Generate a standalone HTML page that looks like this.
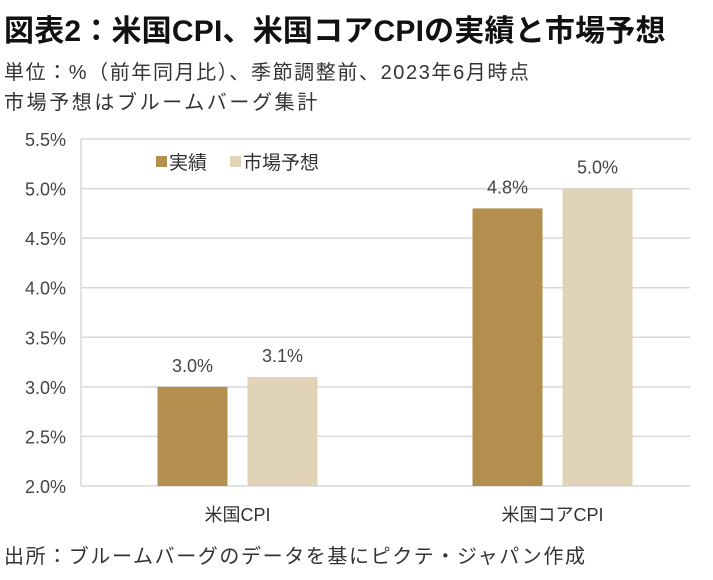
<!DOCTYPE html>
<html><head><meta charset="utf-8"><style>
body{margin:0;background:#fff;width:713px;height:580px;overflow:hidden;font-family:"Liberation Sans","Noto Sans CJK JP",sans-serif;color:#222}
.t{position:absolute;white-space:nowrap}
</style></head><body>
<div class="t" style="left:4px;top:6px;font-size:30px;font-weight:bold;color:#111;letter-spacing:0.2px">図表2：米国CPI、米国コアCPIの実績と市場予想</div>
<div class="t" style="left:4px;top:56px;font-size:20px;color:#333;letter-spacing:1.6px">単位：%（前年同月比）、季節調整前、2023年6月時点</div>
<div class="t" style="left:4px;top:86px;font-size:20px;color:#333;letter-spacing:2.6px">市場予想はブルームバーグ集計</div>
<div class="t" style="left:4px;top:540px;font-size:20px;color:#333;letter-spacing:1.6px">出所：ブルームバーグのデータを基にピクテ・ジャパン作成</div>
<svg id="c" width="713" height="580" style="position:absolute;left:0;top:0"></svg>
<script>
const categories=["米国CPI","米国コアCPI"];
const actual=[3.0,4.8];
const forecast=[3.1,5.0];
const ticks=[2.0,2.5,3.0,3.5,4.0,4.5,5.0,5.5];
const NS="http://www.w3.org/2000/svg";
const svg=document.getElementById('c');
const y0=486,y1=139,vmin=2.0,vmax=5.5,xl=81,xr=690;
const y=v=>y0-(v-vmin)/(vmax-vmin)*(y0-y1);
function mk(t,a){const e=document.createElementNS(NS,t);for(const k in a)e.setAttribute(k,a[k]);svg.appendChild(e);return e;}
ticks.forEach(v=>{
 const l=mk('line',{x1:xl,x2:xr,y1:y(v),y2:y(v),stroke:'#d9d9d9','stroke-width':1.5});
 
 
 const t=mk('text',{x:66,y:y(v)+7,'text-anchor':'end','font-size':18,fill:'#444'});
 t.textContent=v.toFixed(1)+'%';
 
 
});
const ax=mk('line',{x1:xl,x2:xl,y1:y1,y2:y0,stroke:'#d9d9d9','stroke-width':1.5});


const bandStart=80,groupW=315,bw=70,gap=20;
categories.forEach((c,i)=>{
 const cx=bandStart+groupW*(i+0.5);
 [[actual[i],'#b38f4f',cx-gap/2-bw],[forecast[i],'#e0d3b8',cx+gap/2]].forEach(([v,col,x],j)=>{
  const r=mk('rect',{x:x,y:y(v),width:bw,height:y0-y(v),fill:col});
  
  
  const t=mk('text',{x:x+bw/2,y:y(v)-15,'text-anchor':'middle','font-size':18,fill:'#444'});
  t.textContent=v.toFixed(1)+'%';
  
  
 });
 const t=mk('text',{x:cx,y:521,'text-anchor':'middle','font-size':18,fill:'#333'});
 t.textContent=c;
 
 
});
[['実績','#b38f4f',156],['市場予想','#e0d3b8',230]].forEach(([n,col,x])=>{
 const r=mk('rect',{x:x,y:156,width:11,height:11,fill:col});
 
 
 const t=mk('text',{x:x+13,y:169,'font-size':19,fill:'#333'});
 t.textContent=n;
 
 
});
</script>
</body></html>
